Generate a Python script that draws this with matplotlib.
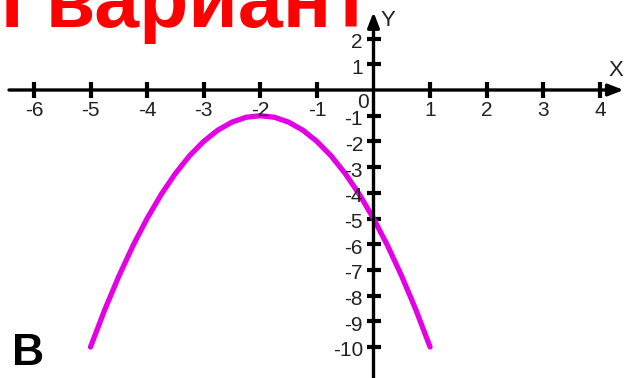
import matplotlib
matplotlib.use('Agg')
import matplotlib.pyplot as plt

# parabola (vertex at -2, -1)
xs = [-5, -4.75, -4.5, -4.25, -4, -3.75, -3.5, -3.25, -3, -2.75, -2.5, -2.25, -2,
      -1.75, -1.5, -1.25, -1, -0.75, -0.5, -0.25, 0, 0.25, 0.5, 0.75, 1]
ys = [-10, -8.56, -7.25, -6.06, -5, -4.06, -3.25, -2.56, -2, -1.56, -1.25, -1.06, -1,
      -1.06, -1.25, -1.56, -2, -2.56, -3.25, -4.06, -5, -6.06, -7.25, -8.56, -10]

xticks = [-6, -5, -4, -3, -2, -1, 1, 2, 3, 4]
yticks = [2, 1, -1, -2, -3, -4, -5, -6, -7, -8, -9, -10]

W, H = 625, 378
x0, y0 = 373.5, 90.0      # pixel position of origin
sx, sy = 56.6, 25.7       # pixels per unit

fig = plt.figure(figsize=(W / 100, H / 100), dpi=100)
ax = fig.add_axes([0, 0, 1, 1])
ax.set_xlim(-x0 / sx, (W - x0) / sx)
ax.set_ylim(-(H - y0) / sy, y0 / sy)
ax.axis('off')

tickfont = ['Liberation Sans', 'DejaVu Sans']
tcol = '#222222'

# axes with arrows
ax.annotate('', xy=(4.42, 0), xytext=(-6.44, 0),
            arrowprops=dict(arrowstyle='-|>,head_length=0.9,head_width=0.35',
                            color='black', lw=2.4, shrinkA=0, shrinkB=0))
ax.annotate('', xy=(0, 3.03), xytext=(0, -12),
            arrowprops=dict(arrowstyle='-|>,head_length=0.9,head_width=0.35',
                            color='black', lw=2.4, shrinkA=0, shrinkB=0))

# tick marks
ax.plot(xticks, [0] * len(xticks), ls='none', marker='|', ms=11, mew=3, color='black')
ax.plot([0] * len(yticks), yticks, ls='none', marker='_', ms=10, mew=3, color='black')

for t in xticks:
    ax.text(t, -20 / sy, str(t), ha='center', va='center', fontsize=15,
            family=tickfont, color=tcol)
for t in yticks:
    ax.text(-10.5 / sx, t - 4 / sy, str(t), ha='right', va='center', fontsize=15,
            family=tickfont, color=tcol)
ax.text(-5 / sx, -13 / sy, '0', ha='right', va='center', fontsize=15,
        family=tickfont, color=tcol)
ax.text(14 / sx, 70 / sy, 'Y', ha='center', va='center', fontsize=16,
        family=tickfont, color=tcol)
ax.text(242 / sx, 20 / sy, 'X', ha='center', va='center', fontsize=16,
        family=tickfont, color=tcol)

# the curve
ax.plot(xs, ys, color='#e400e4', lw=3.8, solid_capstyle='round',
        solid_joinstyle='round')

# headings
fig.text(1 / W, 1 - 27 / H, 'I вариант', color='#ff0000', fontsize=58,
         fontweight='bold', family='Liberation Sans', ha='left', va='baseline')
fig.text(12 / W, 1 - 365 / H, 'В', color='black', fontsize=32,
         fontweight='bold', family='Liberation Sans', ha='left', va='baseline')

fig.savefig('out.png', dpi=100)
